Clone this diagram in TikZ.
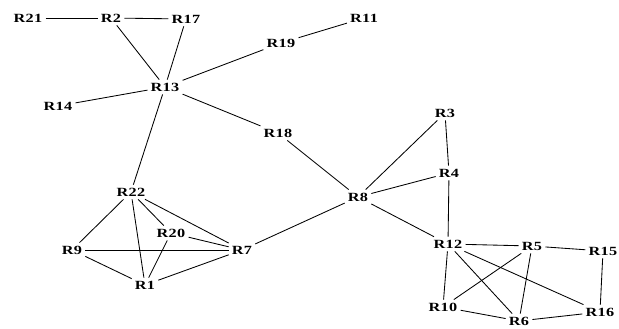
\documentclass[tikz,border=0pt]{standalone}
\usepackage{fontspec}
\setmainfont{Liberation Serif}[FakeStretch=1.3,LetterSpace=3]
\tikzset{
  router/.style={inner sep=3pt, font=\fontsize{12.5}{14}\selectfont\bfseries},
  link/.style={line width=0.85pt}
}
\begin{document}
\begin{tikzpicture}[x=1pt,y=-1pt]
  \useasboundingbox (0,0) rectangle (619,329);

  %% upper part
  \node[router] (R21) at (28,18) {R21};
  \node[router] (R2) at (111,18) {R2};
  \node[router] (R17) at (186,19) {R17};
  \node[router] (R11) at (364,18) {R11};
  \node[router] (R19) at (281,43) {R19};
  \node[router] (R13) at (165,87) {R13};
  \node[router] (R14) at (58,106) {R14};
  \node[router] (R18) at (278,133) {R18};

  %% left cluster
  \node[router] (R22) at (131,192) {R22};
  \node[router] (R20) at (171,233) {R20};
  \node[router] (R9) at (72,250) {R9};
  \node[router] (R7) at (242,250) {R7};
  \node[router] (R1) at (145,285) {R1};

  %% right part
  \node[router] (R3) at (445,113) {R3};
  \node[router] (R4) at (449,173) {R4};
  \node[router] (R8) at (358,197) {R8};
  \node[router] (R12) at (448,244) {R12};
  \node[router] (R5) at (532,246) {R5};
  \node[router] (R15) at (603,251) {R15};
  \node[router] (R10) at (443,307) {R10};
  \node[router] (R6) at (519,321) {R6};
  \node[router] (R16) at (600,312) {R16};

  %% links
  \draw[link] (R21) -- (R2);
  \draw[link] (R2) -- (R17);
  \draw[link] (R2) -- (R13);
  \draw[link] (R17) -- (R13);
  \draw[link] (R13) -- (R19);
  \draw[link] (R19) -- (R11);
  \draw[link] (R13) -- (R14);
  \draw[link] (R13) -- (R18);
  \draw[link] (R13) -- (R22);
  \draw[link] (R18) -- (R8);

  \draw[link] (R22) -- (R9);
  \draw[link] (R22) -- (R1);
  \draw[link] (R22) -- (R20);
  \draw[link] (R22) -- (R7);
  \draw[link] (R20) -- (R7);
  \draw[link] (R20) -- (R1);
  \draw[link] (R9) -- (R7);
  \draw[link] (R9) -- (R1);
  \draw[link] (R1) -- (R7);
  \draw[link] (R7) -- (R8);

  \draw[link] (R8) -- (R3);
  \draw[link] (R3) -- (R4);
  \draw[link] (R8) -- (R4);
  \draw[link] (R4) -- (R12);
  \draw[link] (R8) -- (R12);

  \draw[link] (R12) -- (R5);
  \draw[link] (R5) -- (R15);
  \draw[link] (R12) -- (R10);
  \draw[link] (R12) -- (R6);
  \draw[link] (R12) -- (R16);
  \draw[link] (R5) -- (R10);
  \draw[link] (R5) -- (R6);
  \draw[link] (R15) -- (R16);
  \draw[link] (R10) -- (R6);
  \draw[link] (R6) -- (R16);
\end{tikzpicture}
\end{document}
